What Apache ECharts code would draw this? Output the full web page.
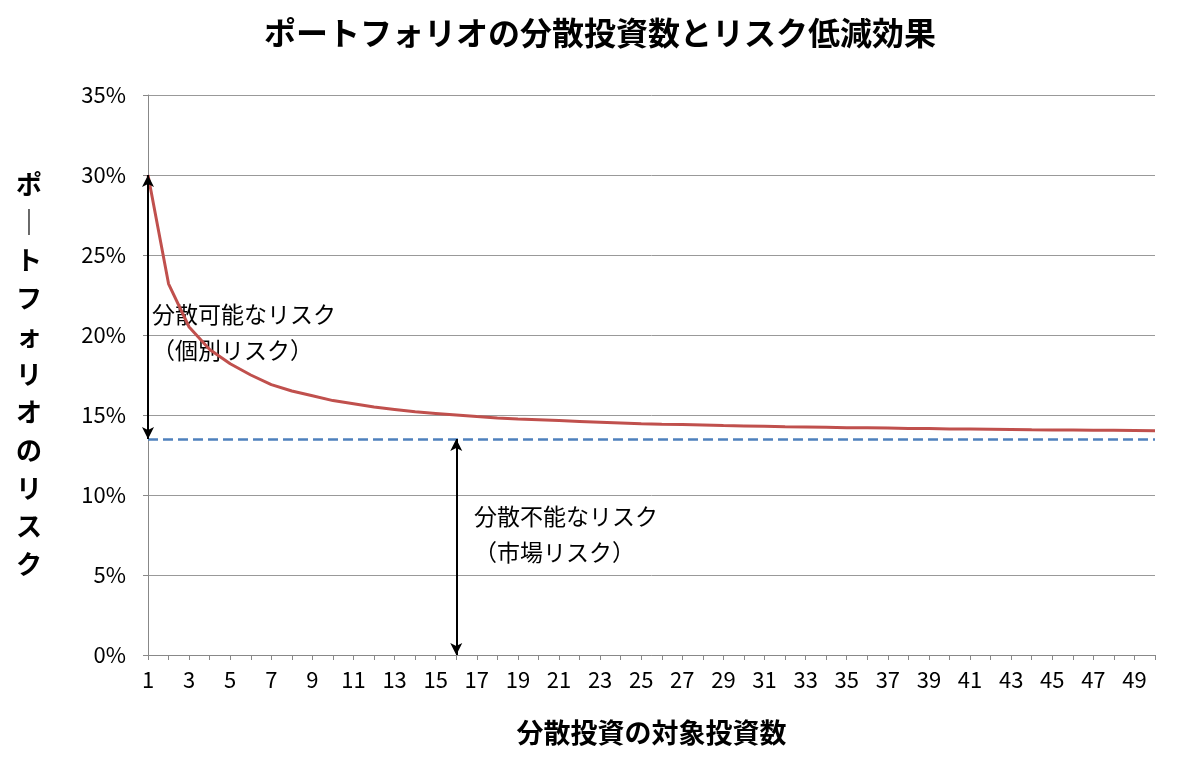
<!DOCTYPE html>
<html><head><meta charset="utf-8">
<script src="https://cdn.jsdelivr.net/npm/echarts@6/dist/echarts.min.js"></script>
<style>html,body{margin:0;background:#fff}#c{width:1200px;height:776px}</style>
</head><body><div id="c"></div>
<script>
const categories = Array.from({length:50},(_,i)=>String(i+1));
const portfolioRisk = [30,23.2,20.5,19.1,18.2,17.5,16.9,16.5,16.2,15.9,15.7,15.5,15.35,15.2,15.1,15.0,14.9,14.82,14.75,14.7,14.65,14.6,14.55,14.5,14.45,14.42,14.4,14.37,14.34,14.32,14.3,14.27,14.25,14.23,14.21,14.2,14.18,14.16,14.15,14.13,14.12,14.11,14.1,14.08,14.07,14.06,14.05,14.04,14.03,14.02];
const marketRisk = 13.5;
const F = '"Noto Sans CJK JP","Noto Sans",sans-serif';
const chart = echarts.init(document.getElementById('c'));
chart.setOption({
  animation:false,
  title:{text:'ポートフォリオの分散投資数とリスク低減効果',left:'center',top:12,textStyle:{fontFamily:F,fontSize:32,fontWeight:'bold',color:'#000'}},
  grid:{left:148,right:45,top:95,bottom:121},
  xAxis:{type:'category',data:categories,boundaryGap:false,
    name:'分散投資の対象投資数',nameLocation:'middle',nameGap:64,
    nameTextStyle:{fontFamily:F,fontSize:27,fontWeight:'bold',color:'#000'},
    axisLine:{lineStyle:{color:'#888'}},axisTick:{show:true,interval:0,lineStyle:{color:'#888'}},
    axisLabel:{interval:1,fontFamily:F,fontSize:22,color:'#000',margin:14}},
  yAxis:{type:'value',min:0,max:35,interval:5,
    axisLabel:{formatter:'{value}%',fontFamily:F,fontSize:22,color:'#000',margin:22},
    axisLine:{show:true,lineStyle:{color:'#888'}},axisTick:{show:true,lineStyle:{color:'#888'}},
    splitLine:{lineStyle:{color:'#999'}}},
  series:[
    {type:'line',data:portfolioRisk,showSymbol:false,lineStyle:{color:'#c0504d',width:3},z:3,
     markLine:{silent:true,symbol:'none',label:{show:false},
       lineStyle:{color:'#4f81bd',type:'dashed',width:2.5},
       data:[{yAxis:marketRisk}]}},
    {type:'line',data:[],markLine:{silent:true,symbol:['arrow','arrow'],symbolSize:[9,12],label:{show:false},
       lineStyle:{color:'#000',type:'solid',width:2},
       data:[[{coord:['1',30]},{coord:['1',marketRisk]}],[{coord:['16',marketRisk]},{coord:['16',0]}]]}}
  ],
  graphic:[
    {type:'text',left:16,top:165,style:{text:'ポ\n｜\nト\nフ\nォ\nリ\nオ\nの\nリ\nス\nク',fill:'#000',font:'bold 26px '+F,lineHeight:38,align:'center'}},
    {type:'text',left:152,top:296,style:{text:'分散可能なリスク\n（個別リスク）',fill:'#000',font:'23px '+F,lineHeight:36}},
    {type:'text',left:474,top:498,style:{text:'分散不能なリスク\n（市場リスク）',fill:'#000',font:'23px '+F,lineHeight:36}}
  ]
});
</script></body></html>
